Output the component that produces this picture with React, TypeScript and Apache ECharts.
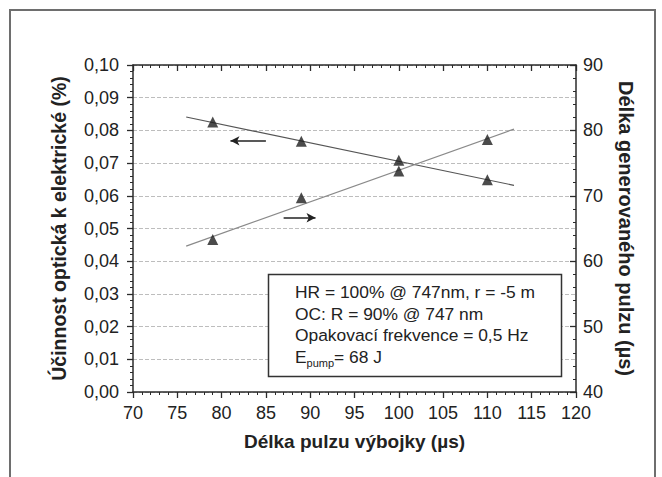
import React, { useEffect, useRef } from "react";
import * as echarts from "echarts";

// Discharge pulse length (µs) at which both quantities were measured
const pulseLengths = [79, 89, 100, 110];
// Optical-to-electrical efficiency (%) – left axis
const efficiency = [0.0826, 0.0767, 0.0709, 0.0649];
// Generated pulse length (µs) – right axis
const generatedPulse = [63.3, 69.7, 73.8, 78.6];

// Linear fit end points
const efficiencyFit = [
  [76, 0.0841],
  [113, 0.0632],
];
const generatedPulseFit = [
  [76, 62.3],
  [113, 80.2],
];

// Arrows telling which axis each curve belongs to
const leftArrow = [
  [85, 0.0768],
  [81, 0.0768],
];
const rightArrow = [
  [87, 66.65],
  [90.6, 66.65],
];

const legendLines = [
  "HR = 100% @ 747nm, r = -5 m",
  "OC: R = 90% @ 747 nm",
  "Opakovací frekvence = 0,5 Hz",
];

const FONT = '"Liberation Sans", Arial, Helvetica, sans-serif';
const AXIS_COLOR = "#2b2b2b";

export default function App() {
  const ref = useRef<HTMLDivElement>(null);

  useEffect(() => {
    if (!ref.current) return;
    const chart = echarts.init(ref.current, null, { renderer: "svg" });

    const axisLine = { show: true, lineStyle: { color: AXIS_COLOR, width: 1.5 } };

    chart.setOption({
      animation: false,
      backgroundColor: "#ffffff",
      textStyle: { fontFamily: FONT },
      grid: { left: 133, right: 86, top: 65, bottom: 85, containLabel: false },
      xAxis: [
        {
          type: "value",
          min: 70,
          max: 120,
          interval: 5,
          position: "bottom",
          axisLine,
          axisTick: { show: true, inside: false, length: 6, lineStyle: { color: AXIS_COLOR, width: 1.3 } },
          minorTick: { show: true, splitNumber: 5, length: 3, lineStyle: { color: AXIS_COLOR, width: 1 } },
          axisLabel: { color: "#222", fontSize: 18, margin: 12, fontFamily: FONT },
          splitLine: { show: false },
          name: "Délka pulzu výbojky (µs)",
          nameLocation: "middle",
          nameGap: 40,
          nameTextStyle: { color: "#222", fontSize: 19, fontWeight: "bold", fontFamily: FONT },
        },
        {
          type: "value",
          min: 70,
          max: 120,
          interval: 5,
          position: "top",
          axisLine,
          axisTick: { show: true, inside: true, length: 6, lineStyle: { color: AXIS_COLOR, width: 1.3 } },
          minorTick: { show: true, splitNumber: 5, length: 3, lineStyle: { color: AXIS_COLOR, width: 1 } },
          axisLabel: { show: false },
          splitLine: { show: false },
        },
      ],
      yAxis: [
        {
          type: "value",
          min: 0,
          max: 0.1,
          interval: 0.01,
          position: "left",
          axisLine,
          axisTick: { show: true, inside: false, length: 6, lineStyle: { color: AXIS_COLOR, width: 1.3 } },
          minorTick: { show: true, splitNumber: 5, length: 3, lineStyle: { color: AXIS_COLOR, width: 1 } },
          axisLabel: {
            color: "#222",
            fontSize: 18,
            margin: 14,
            fontFamily: FONT,
            formatter: (v: number) => v.toFixed(2).replace(".", ","),
          },
          splitLine: { show: true, lineStyle: { color: "#bdbdbd", width: 1, type: [4, 2] } },
          name: "Účinnost optická k elektrické (%)",
          nameLocation: "middle",
          nameGap: 64,
          nameRotate: 90,
          nameTextStyle: { color: "#222", fontSize: 19.5, fontWeight: "bold", fontFamily: FONT },
        },
        {
          type: "value",
          min: 40,
          max: 90,
          interval: 10,
          position: "right",
          axisLine,
          axisTick: { show: true, inside: true, length: 6, lineStyle: { color: AXIS_COLOR, width: 1.3 } },
          minorTick: { show: true, splitNumber: 5, length: 3, lineStyle: { color: AXIS_COLOR, width: 1 } },
          axisLabel: { color: "#222", fontSize: 18, margin: 7, fontFamily: FONT },
          splitLine: { show: false },
          name: "Délka generovaného pulzu (µs)",
          nameLocation: "middle",
          nameGap: 40,
          nameRotate: -90,
          nameTextStyle: { color: "#222", fontSize: 20, fontWeight: "bold", fontFamily: FONT },
        },
      ],
      series: [
        {
          type: "line",
          xAxisIndex: 0,
          yAxisIndex: 0,
          data: efficiencyFit,
          showSymbol: false,
          symbol: "none",
          lineStyle: { color: "#555", width: 1.2 },
          silent: true,
          z: 3,
          markLine: {
            silent: true,
            symbol: ["none", "arrow"],
            symbolSize: [7, 9],
            label: { show: false },
            lineStyle: { color: "#222", width: 1.5, type: "solid" },
            data: [[{ coord: leftArrow[0] }, { coord: leftArrow[1] }]],
          },
        },
        {
          type: "line",
          xAxisIndex: 0,
          yAxisIndex: 1,
          data: generatedPulseFit,
          showSymbol: false,
          symbol: "none",
          lineStyle: { color: "#8a8a8a", width: 1.2 },
          silent: true,
          z: 3,
          markLine: {
            silent: true,
            symbol: ["none", "arrow"],
            symbolSize: [7, 9],
            label: { show: false },
            lineStyle: { color: "#222", width: 1.5, type: "solid" },
            data: [[{ coord: rightArrow[0] }, { coord: rightArrow[1] }]],
          },
        },
        {
          type: "scatter",
          xAxisIndex: 0,
          yAxisIndex: 0,
          data: pulseLengths.map((x, i) => [x, efficiency[i]]),
          symbol: "triangle",
          symbolSize: 11,
          itemStyle: { color: "#1e1e1e" },
          z: 5,
        },
        {
          type: "scatter",
          xAxisIndex: 0,
          yAxisIndex: 1,
          data: pulseLengths.map((x, i) => [x, generatedPulse[i]]),
          symbol: "triangle",
          symbolSize: 11,
          itemStyle: { color: "#1e1e1e" },
          z: 5,
        },
      ],
      graphic: [
        // page frame
        {
          type: "polyline",
          silent: true,
          shape: {
            points: [
              [10, 480],
              [10, 10],
              [655, 10],
              [655, 480],
            ],
          },
          style: { stroke: "#6e6e6e", lineWidth: 2, fill: "none" },
        },
        // annotation box
        {
          type: "rect",
          silent: true,
          shape: { x: 268.5, y: 274.5, width: 293, height: 102 },
          style: { stroke: "#333", lineWidth: 1.5, fill: "#ffffff" },
          z: 10,
        },
        ...legendLines.map((t, i) => ({
          type: "text",
          silent: true,
          x: 295,
          y: 292 + i * 21.6,
          z: 11,
          style: {
            text: t,
            fontSize: 17.4,
            fontFamily: FONT,
            fill: "#222",
            verticalAlign: "middle",
          },
        })),
        {
          type: "text",
          silent: true,
          x: 295,
          y: 356.8,
          z: 11,
          style: {
            text: "{m|E}{s|pump}{m|= 68 J}",
            fontFamily: FONT,
            fill: "#222",
            verticalAlign: "middle",
            rich: {
              m: { fontSize: 17.4, fontFamily: FONT, fill: "#222", verticalAlign: "middle" },
              s: { fontSize: 11, fontFamily: FONT, fill: "#222", verticalAlign: "top", padding: [12, 0, 0, 0] },
            },
          },
        },
      ],
    });

    return () => chart.dispose();
  }, []);

  return (
    <div
      ref={ref}
      style={{ position: "fixed", left: 0, top: 0, width: 662, height: 477 }}
    />
  );
}
